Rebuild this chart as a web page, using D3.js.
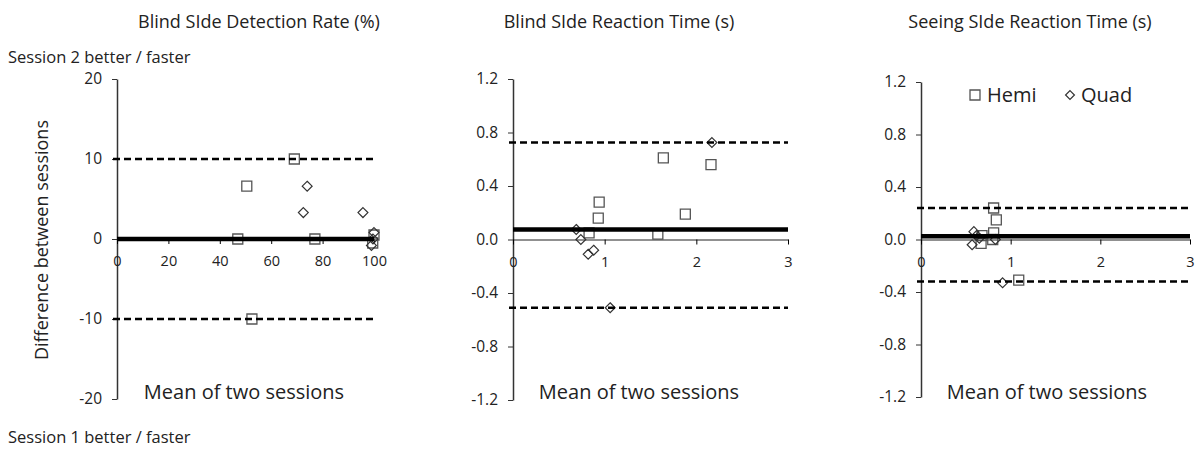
<!DOCTYPE html>
<html>
<head>
<meta charset="utf-8">
<script src="https://cdn.jsdelivr.net/npm/d3@7"></script>
<style>
  body { margin: 0; background: #fff; }
  text { font-family: "Open Sans", "Noto Sans", sans-serif; fill: #222; }
</style>
</head>
<body>
<div id="chart"></div>
<script>
// panel titles
const titles = ['Blind SIde Detection Rate (%)', 'Blind SIde Reaction Time (s)', 'Seeing SIde Reaction Time (s)'];

// panel 1 : detection rate
const detHemi = [[69, 10], [50.5, 6.6], [47, 0], [77, 0], [52.5, -10], [100, 0.5], [99.5, -0.5]];
const detQuad = [[74, 6.6], [72.5, 3.3], [95.7, 3.3], [100, 0.8], [99, -0.8], [99.6, 0]];
const detLines = [0, 10, -10]; // bias, upper, lower
const detXTicks = [0, 20, 40, 60, 80, 100];
const detYTicks = [-20, -10, 0, 10, 20];

// panel 2 : blind side RT
const blindHemi = [[1.64, 0.61], [2.16, 0.56], [0.94, 0.28], [0.93, 0.16], [1.88, 0.19], [0.83, 0.05], [1.58, 0.04]];
const blindQuad = [[2.17, 0.725], [0.69, 0.075], [0.74, 0.0], [0.82, -0.11], [0.88, -0.08], [1.06, -0.51]];
const blindLines = [0.075, 0.725, -0.51];

// panel 3 : seeing side RT
const seeHemi = [[0.81, 0.24], [0.84, 0.15], [0.81, 0.05], [0.68, 0.03], [0.67, -0.03], [1.09, -0.31], [0.8, 0.0]];
const seeQuad = [[0.83, 0.0], [0.59, 0.06], [0.57, -0.04], [0.62, 0.03], [0.91, -0.33], [0.65, 0.01]];
const seeLines = [0.025, 0.24, -0.32];

const rtXTicks = [0, 1, 2, 3];
const rtYTicks = [-1.2, -0.8, -0.4, 0.0, 0.4, 0.8, 1.2];

const width = 1195, height = 449;

const svg = d3.select('#chart').append('svg')
  .attr('width', width)
  .attr('height', height);

// plain hyphen for negatives, like the original
const hy = f => d => f(d).replace('\u2212', '-');

const panels = [
  { title: titles[0], hemi: detHemi, quad: detQuad, lines: detLines,
    xd: [0, 100], yd: [-20, 20], xr: [117, 374], yr: [399, 79],
    xt: detXTicks, yt: detYTicks, yf: hy(d3.format('d')), tx: 259, mx: 244, lineEnd: 100 },
  { title: titles[1], hemi: blindHemi, quad: blindQuad, lines: blindLines,
    xd: [0, 3], yd: [-1.2, 1.2], xr: [513, 788], yr: [400, 79],
    xt: rtXTicks, yt: rtYTicks, yf: hy(d3.format('.1f')), tx: 619, mx: 639, lineEnd: 3 },
  { title: titles[2], hemi: seeHemi, quad: seeQuad, lines: seeLines,
    xd: [0, 3], yd: [-1.2, 1.2], xr: [921, 1190], yr: [397, 82],
    xt: rtXTicks, yt: rtYTicks, yf: hy(d3.format('.1f')), tx: 1030, mx: 1047, lineEnd: 3 }
];

const square = d3.symbol().type(d3.symbolSquare).size(100);
const diamond = d3.symbol().type(d3.symbolDiamond2).size(62);

panels.forEach((p, i) => {
  const x = d3.scaleLinear().domain(p.xd).range(p.xr);
  const y = d3.scaleLinear().domain(p.yd).range(p.yr);
  const g = svg.append('g');

  g.append('text')
    .attr('x', p.tx).attr('y', 28)
    .attr('text-anchor', 'middle')
    .attr('font-size', 18)
    .text(p.title);

  // y axis
  g.append('g')
    .attr('transform', `translate(${x(0)},0)`)
    .call(d3.axisLeft(y).tickValues(p.yt).tickFormat(p.yf).tickSize(5).tickSizeOuter(0).tickPadding(10))
    .call(a => a.select('.domain').attr('stroke', '#333').attr('stroke-width', 1.5))
    .call(a => a.selectAll('.tick line').attr('stroke', '#333'))
    .call(a => a.selectAll('text').attr('font-size', 15.5).attr('font-family', '"Open Sans", sans-serif').attr('fill', '#222'));

  // x axis at zero
  g.append('g')
    .attr('transform', `translate(0,${y(0)})`)
    .call(d3.axisBottom(x).tickValues(p.xt).tickFormat(d3.format('d')).tickSize(5).tickSizeOuter(0))
    .call(a => a.select('.domain').attr('stroke', '#222').attr('stroke-width', 1))
    .call(a => a.selectAll('text').attr('y', 17).attr('font-size', 14.5).attr('font-family', '"Open Sans", sans-serif').attr('fill', '#222'));

  // markers
  g.selectAll('.hemi').data(p.hemi).join('path')
    .attr('d', square)
    .attr('transform', d => `translate(${x(d[0])},${y(d[1])})`)
    .attr('fill', 'none').attr('stroke', '#555').attr('stroke-width', 1.3);

  g.selectAll('.quad').data(p.quad).join('path')
    .attr('d', diamond)
    .attr('transform', d => `translate(${x(d[0])},${y(d[1])})`)
    .attr('fill', 'none').attr('stroke', '#333').attr('stroke-width', 1.2);

  // bias and limits of agreement
  p.lines.forEach((v, j) => {
    g.append('line')
      .attr('x1', x(0) - (j ? 4 : 0)).attr('x2', x(p.lineEnd) + (j && i === 0 ? 3 : 0))
      .attr('y1', y(v)).attr('y2', y(v))
      .attr('stroke', '#000')
      .attr('stroke-width', j ? 2.5 : 4.5)
      .attr('stroke-dasharray', j ? '7,4' : null);
  });

  g.append('text')
    .attr('x', p.mx).attr('y', 399)
    .attr('text-anchor', 'middle')
    .attr('font-size', 20)
    .text('Mean of two sessions');
});

// legend
const lg = svg.append('g');
lg.append('path').attr('d', d3.symbol().type(d3.symbolSquare).size(100))
  .attr('transform', 'translate(975,95)')
  .attr('fill', 'none').attr('stroke', '#555').attr('stroke-width', 1.3);
lg.append('text').attr('x', 987).attr('y', 102).attr('font-size', 20).text('Hemi');
lg.append('path').attr('d', d3.symbol().type(d3.symbolDiamond2).size(50))
  .attr('transform', 'translate(1070,95)')
  .attr('fill', 'none').attr('stroke', '#333').attr('stroke-width', 1.2);
lg.append('text').attr('x', 1081).attr('y', 102).attr('font-size', 20).text('Quad');

// side notes
svg.append('text').attr('x', 8).attr('y', 63).attr('font-size', 16.5).text('Session 2 better / faster');
svg.append('text').attr('x', 8).attr('y', 443).attr('font-size', 16.5).text('Session 1 better / faster');
svg.append('text')
  .attr('transform', 'translate(48,240) rotate(-90)')
  .attr('text-anchor', 'middle')
  .attr('font-size', 18)
  .text('Difference between sessions');
</script>
</body>
</html>
